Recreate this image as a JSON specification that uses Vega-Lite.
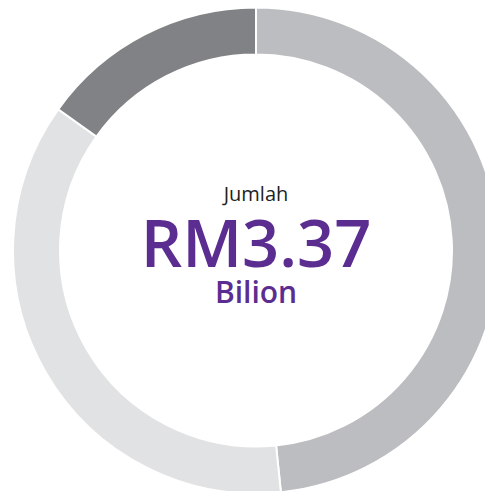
{
  "$schema": "https://vega.github.io/schema/vega-lite/v6.json",
  "width": 458,
  "height": 481,
  "padding": {"left": 27, "top": 10, "right": 0, "bottom": 0},
  "autosize": {"type": "none"},
  "background": "white",
  "config": {"view": {"stroke": null}},
  "layer": [
    {
      "data": {"values": [
        {"segment": "A", "value": 1.63, "rank": 1},
        {"segment": "B", "value": 1.23, "rank": 2},
        {"segment": "C", "value": 0.51, "rank": 3}
      ]},
      "mark": {"type": "arc", "radius": 243, "radius2": 196, "stroke": "white", "strokeWidth": 2},
      "encoding": {
        "theta": {"field": "value", "type": "quantitative", "stack": true},
        "order": {"field": "rank", "type": "quantitative"},
        "color": {"field": "segment", "type": "nominal", "legend": null,
          "scale": {"domain": ["A", "B", "C"], "range": ["#bcbdc0", "#e1e2e3", "#808285"]}}
      }
    },
    {
      "data": {"values": [{"t": "Jumlah"}]},
      "mark": {"type": "text", "font": "Open Sans", "fontSize": 20, "color": "#231f20", "baseline": "alphabetic", "align": "center", "dy": -49.5},
      "encoding": {"text": {"field": "t", "type": "nominal"}}
    },
    {
      "data": {"values": [{"t": "RM3.37"}]},
      "mark": {"type": "text", "font": "Open Sans", "fontSize": 65, "fontWeight": 600, "color": "#5c2d91", "baseline": "alphabetic", "align": "center", "dy": 16.5},
      "encoding": {"text": {"field": "t", "type": "nominal"}}
    },
    {
      "data": {"values": [{"t": "Bilion"}]},
      "mark": {"type": "text", "font": "Open Sans", "fontSize": 30, "fontWeight": 600, "color": "#5c2d91", "baseline": "alphabetic", "align": "center", "dy": 52.5},
      "encoding": {"text": {"field": "t", "type": "nominal"}}
    }
  ]
}
